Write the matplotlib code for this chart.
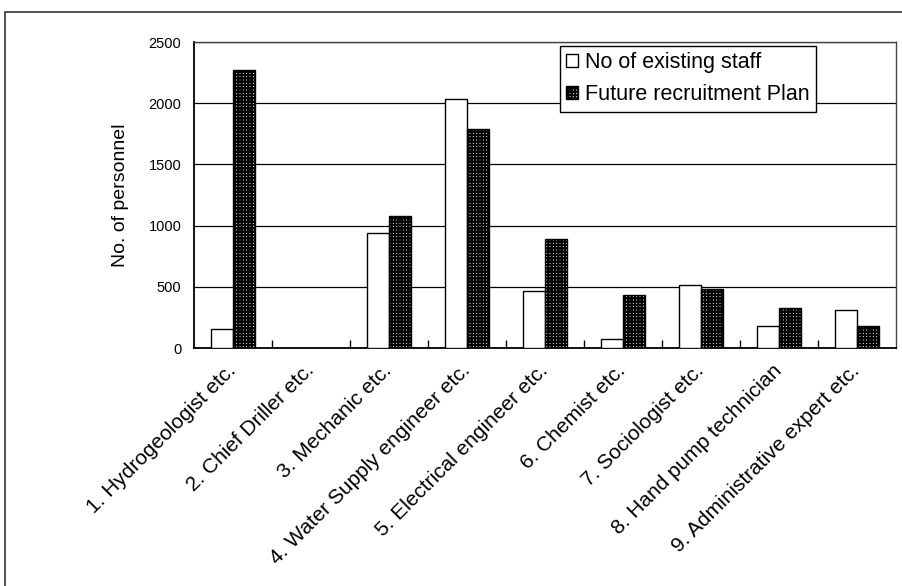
import matplotlib

matplotlib.use("Agg")
import matplotlib.pyplot as plt
import numpy as np
from matplotlib.patches import Rectangle

plt.rcParams["font.family"] = ["Liberation Sans", "DejaVu Sans"]
plt.rcParams["hatch.linewidth"] = 1.6

categories = [
    "1. Hydrogeologist etc.",
    "2. Chief Driller etc.",
    "3. Mechanic etc.",
    "4. Water Supply engineer etc.",
    "5. Electrical engineer etc.",
    "6. Chemist etc.",
    "7. Sociologist etc.",
    "8. Hand pump technician",
    "9. Administrative expert etc.",
]
existing_staff = [155, 0, 937, 2032, 468, 71, 515, 180, 310]
future_plan = [2271, 0, 1081, 1789, 888, 433, 482, 324, 180]

fig = plt.figure(figsize=(9.03, 5.86), dpi=100)
ax = fig.add_axes([0.2148, 0.4061, 0.7775, 0.5222])

x = np.arange(len(categories))
w = 0.28
ax.bar(x - w / 2, existing_staff, w, color="white", edgecolor="black",
       linewidth=1.0, label="No of existing staff", zorder=3)
ax.bar(x + w / 2, future_plan, w, color="white", edgecolor="black",
       hatch="+++++", linewidth=1.0, label="Future recruitment Plan", zorder=3)

ax.set_xlim(-0.5, len(categories) - 0.5)
ax.set_ylim(0, 2500)
ax.set_yticks(np.arange(0, 2501, 500))
ax.yaxis.grid(True, color="black", linewidth=0.9, zorder=1)
ax.set_axisbelow(True)
ax.tick_params(axis="y", length=0, pad=9, labelsize=10.5)

# labels sit under each group, tick marks go on the group boundaries
ax.set_xticks(x)
ax.set_xticklabels(categories, rotation=45, ha="right", va="center",
                   rotation_mode="anchor", fontsize=15)
ax.tick_params(axis="x", which="major", length=0, pad=14)
ax.set_xticks(np.arange(0.5, len(categories) - 0.5), minor=True)
ax.tick_params(axis="x", which="minor", direction="in", length=6,
               width=1.0, color="black")

ax.set_ylabel("No. of personnel", fontsize=14, labelpad=14)

for side in ("left", "bottom"):
    ax.spines[side].set_color("black")
    ax.spines[side].set_linewidth(1.3)
for side in ("top", "right"):
    ax.spines[side].set_color("#444444")
    ax.spines[side].set_linewidth(1.0)

leg = ax.legend(loc="upper left", bbox_to_anchor=(0.521, 0.987), fontsize=15.5,
                frameon=True, fancybox=False, framealpha=1, edgecolor="black",
                handlelength=0.55, handleheight=0.55, handletextpad=0.3,
                borderpad=0.3, labelspacing=0.5, borderaxespad=0)
leg.get_frame().set_linewidth(1.0)
leg.set_zorder(5)

# chart-area border running off the right and bottom edges
fig.patches.append(Rectangle((5 / 903, -0.1), 1.2, 574 / 586 + 0.1,
                             transform=fig.transFigure, fill=False,
                             edgecolor="#333333", linewidth=1.2))

fig.savefig("out.png", dpi=100)
